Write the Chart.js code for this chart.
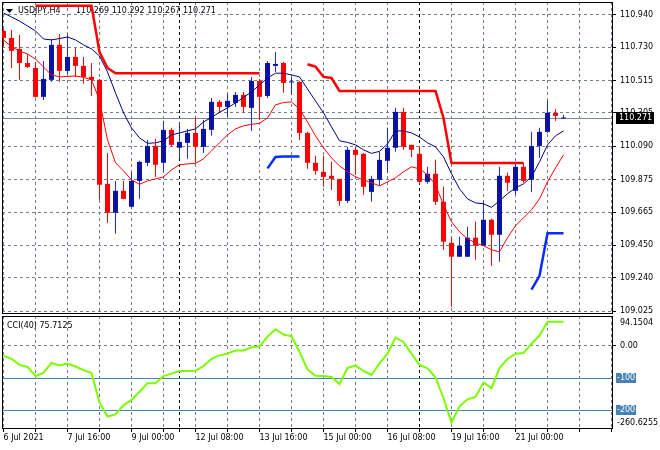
<!DOCTYPE html>
<html>
<head>
<meta charset="utf-8">
<script src="https://cdn.jsdelivr.net/npm/chart.js@4.4.1/dist/chart.umd.min.js"></script>
<style>
  html, body { margin: 0; padding: 0; background: #fff; }
  #wrap { position: relative; width: 660px; height: 450px; overflow: hidden; }
  #main { position: absolute; left: 0; top: 0; }
  #cci { position: absolute; left: 0; top: 314px; }
</style>
</head>
<body>
<div id="wrap">
  <canvas id="main" width="660" height="315"></canvas>
  <canvas id="cci" width="660" height="136"></canvas>
</div>
<script>
// USDJPY H4 bars, 6 Jul 2021 08:00 onwards (bar index = position)
const opens = [110.835, 110.790, 110.719, 110.628, 110.596, 110.409, 110.519, 110.745, 110.577, 110.667,
  110.609, 110.538, 110.519, 109.847, 109.660, 109.802, 109.699, 109.866, 109.983, 110.092,
  109.983, 110.196, 110.080, 110.112, 110.176, 110.086, 110.196, 110.377, 110.344, 110.370,
  110.422, 110.338, 110.512, 110.415, 110.609, 110.628, 110.502, 110.506, 110.176, 109.983,
  109.925, 109.899, 109.879, 109.737, 110.067, 110.041, 109.795, 109.873, 109.996, 110.080,
  110.312, 110.099, 110.041, 109.860, 109.912, 109.731, 109.466, 109.376, 109.376, 109.499,
  109.447, 109.615, 109.518, 109.899, 109.802, 109.957, 109.873, 110.092, 110.183, 110.306, 110.269];
const highs = [110.848, 110.841, 110.809, 110.686, 110.635, 110.641, 110.783, 110.816, 110.809, 110.725,
  110.667, 110.628, 110.525, 110.047, 109.866, 109.866, 109.918, 109.996, 110.131, 110.138,
  110.254, 110.209, 110.247, 110.202, 110.280, 110.260, 110.402, 110.389, 110.428, 110.441,
  110.441, 110.538, 110.525, 110.641, 110.699, 110.635, 110.538, 110.512, 110.183, 110.028,
  110.028, 109.989, 109.879, 110.086, 110.080, 110.047, 109.899, 110.054, 110.209, 110.338,
  110.338, 110.099, 110.092, 109.957, 110.002, 109.828, 109.499, 109.505, 109.570, 109.602,
  109.737, 109.621, 109.957, 109.918, 109.976, 109.983, 110.183, 110.209, 110.383, 110.331, 110.292];
const lows = [110.738, 110.596, 110.519, 110.596, 110.405, 110.389, 110.506, 110.506, 110.557, 110.538,
  110.493, 110.415, 109.744, 109.595, 109.524, 109.748, 109.692, 109.750, 109.963, 109.892,
  109.925, 110.086, 110.009, 110.009, 109.983, 110.047, 110.157, 110.306, 110.280, 110.344,
  110.306, 110.189, 110.260, 110.402, 110.570, 110.435, 110.422, 110.131, 109.944, 109.905,
  109.828, 109.808, 109.705, 109.724, 109.905, 109.776, 109.731, 109.834, 109.918, 110.054,
  110.067, 110.021, 109.841, 109.847, 109.711, 109.421, 109.053, 109.376, 109.376, 109.356,
  109.447, 109.318, 109.344, 109.802, 109.776, 109.854, 109.795, 110.015, 110.176, 110.254, 110.267];
const closes = [110.790, 110.706, 110.628, 110.602, 110.409, 110.525, 110.745, 110.577, 110.667, 110.609,
  110.538, 110.519, 109.841, 109.660, 109.802, 109.750, 109.866, 109.989, 110.092, 109.970,
  110.196, 110.099, 110.118, 110.176, 110.086, 110.202, 110.377, 110.344, 110.383, 110.422,
  110.344, 110.512, 110.409, 110.628, 110.622, 110.499, 110.509, 110.176, 109.983, 109.931,
  109.892, 109.879, 109.737, 110.067, 110.034, 109.828, 109.879, 110.002, 110.080, 110.312,
  110.086, 110.067, 109.860, 109.912, 109.731, 109.473, 109.376, 109.447, 109.499, 109.447,
  109.615, 109.518, 109.899, 109.854, 109.957, 109.866, 110.092, 110.183, 110.306, 110.286, 110.271];

// indicator lines (navy MA, red lower MA, red/blue stop lines)
const maLine = [110.951, 110.925, 110.899, 110.867, 110.835, 110.783, 110.777, 110.786, 110.796, 110.777,
  110.745, 110.719, 110.673, 110.570, 110.435, 110.306, 110.209, 110.144, 110.109, 110.112,
  110.125, 110.163, 110.176, 110.189, 110.202, 110.247, 110.276, 110.309, 110.338, 110.370,
  110.406, 110.441, 110.486, 110.531, 110.562, 110.562, 110.551, 110.538, 110.460, 110.383,
  110.306, 110.215, 110.125, 110.115, 110.099, 110.067, 110.044, 110.057, 110.105, 110.189,
  110.189, 110.176, 110.150, 110.112, 110.086, 110.021, 109.912, 109.815, 109.750, 109.724,
  109.718, 109.695, 109.737, 109.783, 109.821, 109.847, 109.892, 109.989, 110.099, 110.157, 110.189];
const lowerMa = [110.777, 110.732, 110.706, 110.686, 110.654, 110.602, 110.551, 110.538, 110.541, 110.544,
  110.535, 110.519, 110.389, 110.131, 109.983, 109.931, 109.873, 109.844, 109.866, 109.879,
  109.892, 109.937, 109.970, 109.976, 109.979, 110.009, 110.060, 110.112, 110.163, 110.202,
  110.222, 110.231, 110.238, 110.273, 110.357, 110.373, 110.376, 110.331, 110.247, 110.157,
  110.079, 110.015, 109.963, 109.925, 109.892, 109.873, 109.854, 109.834, 109.860, 109.886,
  109.925, 109.957, 109.944, 109.905, 109.841, 109.712, 109.602, 109.537, 109.492, 109.466,
  109.447, 109.421, 109.408, 109.499, 109.576, 109.628, 109.679, 109.750, 109.860, 109.950, 110.034];
const stopUpper = [null, null, null, null, 110.997, 110.997, 110.997, 110.997, 110.997, 110.997,
  110.997, 110.997, 110.699, 110.596, 110.562, 110.562, 110.562, 110.562, 110.562, 110.562,
  110.562, 110.562, 110.562, 110.562, 110.562, 110.562, 110.562, 110.562, 110.562, 110.562,
  110.562, 110.562, 110.562, null, null, null, null, null, 110.620, 110.604,
  110.538, 110.531, 110.447, 110.447, 110.447, 110.447, 110.447, 110.447, 110.447, 110.447,
  110.447, 110.447, 110.447, 110.447, 110.447, 110.273, 109.981, 109.981, 109.981, 109.981,
  109.981, 109.981, 109.981, 109.981, 109.981, 109.981, null, null, null, null, null];
const stopLower = [null, null, null, null, null, null, null, null, null, null,
  null, null, null, null, null, null, null, null, null, null,
  null, null, null, null, null, null, null, null, null, null,
  null, null, null, 109.947, 110.021, 110.023, 110.023, 110.023, null, null,
  null, null, null, null, null, null, null, null, null, null,
  null, null, null, null, null, null, null, null, null, null,
  null, null, null, null, null, null, 109.163, 109.253, 109.528, 109.528, 109.528];

// CCI(40)
const cciValues = [-30.8, -40.3, -59.4, -65.7, -94.3, -84.8, -53.3, -61.3, -54.9, -64.4,
  -75.6, -84.8, -176.8, -221.3, -214.9, -186.3, -169.2, -143.8, -116.8, -116.8,
  -94.6, -86.7, -78.7, -78.7, -77.8, -62.9, -40.6, -29.5, -24.4, -13.9,
  -13.9, -3.8, -1.3, 29.5, 52.7, 35.9, 30.5, -18.1, -73.7, -93.3,
  -94.3, -97.5, -119.7, -68.9, -61.6, -78.4, -91.1, -54.6, -24.4, 26.3,
  12.7, -24.4, -59.4, -70.5, -98.4, -164.1, -240.3, -189.5, -167.3, -160.0,
  -114.3, -132.4, -69.2, -40.6, -24.4, -22.2, 7.2, 32.7, 76.2, 75.9, 75.7125];
const cciLevels = [-100, -200];
const cciTicks = [0];
const cciMin = -260.6255, cciMax = 94.1504;

// axes
const priceTicks = [109.025, 109.240, 109.450, 109.665, 109.875, 110.090, 110.305, 110.515, 110.730, 110.940];
const priceMin = 109.006, priceMax = 111.022;
const gridBars = [0, 4, 8, 12, 16, 20, 24, 28, 32, 36, 40, 44, 48, 52, 56, 60, 64, 68, 72, 76];
const separatorBars = [22, 52];
const labelBars = [0, 8, 16, 24, 32, 40, 48, 56, 64];
const dateLabels = ['6 Jul 2021', '7 Jul 16:00', '9 Jul 00:00', '12 Jul 08:00', '13 Jul 16:00',
  '15 Jul 00:00', '16 Jul 08:00', '19 Jul 16:00', '21 Jul 00:00'];
const xMin = -0.1875, xMax = 76.0625;

const symbolText = 'USDJPY,H4';
const lastClose = closes[closes.length - 1];

Chart.defaults.font.family = "'DejaVu Sans', sans-serif";
Chart.defaults.font.size = 8;
Chart.defaults.color = '#000';

const gridColor = '#708090';
const upBody = '#0b12a8', upWick = '#1b2cff', downColor = '#ff0000';

const xTickBars = gridBars.concat(separatorBars).sort((a, b) => a - b);
const isUp = opens.map((o, i) => closes[i] >= o);
const pts = arr => arr.map((v, i) => ({ x: i, y: v }));

function xAxis(showLabels) {
  return {
    type: 'linear', min: xMin, max: xMax, offset: false,
    afterBuildTicks: s => { s.ticks = xTickBars.map(v => ({ value: v })); },
    afterFit: s => { s.height = showLabels ? 21 : 0; s.paddingLeft = 0; s.paddingRight = 0; },
    grid: {
      offset: false,
      color: c => (c.tick && separatorBars.includes(c.tick.value)) ? '#000' : gridColor,
      drawTicks: showLabels, tickLength: 3, tickColor: '#000', tickBorderDash: []
    },
    border: { display: false, dash: [3, 3] },
    ticks: {
      display: showLabels, autoSkip: false, maxRotation: 0, align: 'start', padding: 1,
      callback: v => { const k = labelBars.indexOf(v); return k < 0 ? '' : dateLabels[k]; }
    }
  };
}

const frame = {
  id: 'frame',
  beforeDatasetsDraw(chart) {
    const { ctx, chartArea: a } = chart;
    ctx.save();
    ctx.strokeStyle = '#000';
    ctx.lineWidth = 1;
    ctx.strokeRect(a.left + 0.5, a.top + 0.5, a.right - a.left, a.bottom - a.top - 1);
    ctx.restore();
  }
};

const mainDecor = {
  id: 'mainDecor',
  beforeDatasetsDraw(chart) {
    const { ctx, chartArea: a, scales } = chart;
    const y = Math.round(scales.y.getPixelForValue(lastClose)) + 0.5;
    ctx.save();
    ctx.strokeStyle = '#778899';
    ctx.lineWidth = 1;
    ctx.beginPath();
    ctx.moveTo(a.left, y);
    ctx.lineTo(a.right, y);
    ctx.stroke();
    // header
    ctx.font = "8px 'DejaVu Sans'";
    ctx.textBaseline = 'middle';
    ctx.fillStyle = '#000';
    ctx.beginPath();
    ctx.moveTo(6, 9); ctx.lineTo(13, 9); ctx.lineTo(9.5, 13); ctx.closePath();
    ctx.fill();
    const last = opens.length - 1;
    ctx.fillText(symbolText, 18, 10.5);
    ctx.fillText([opens[last], highs[last], lows[last], closes[last]].map(v => v.toFixed(3)).join(' '), 76, 10.5);
    ctx.restore();
  },
  afterDraw(chart) {
    const { ctx, scales } = chart;
    const y = scales.y.getPixelForValue(lastClose);
    ctx.save();
    ctx.fillStyle = '#000';
    ctx.fillRect(616, Math.round(y) - 6, 38, 12);
    ctx.font = "8px 'DejaVu Sans'";
    ctx.textBaseline = 'middle';
    ctx.fillStyle = '#fff';
    ctx.fillText(lastClose.toFixed(3), 619, y);
    ctx.restore();
  }
};

const cciDecor = {
  id: 'cciDecor',
  beforeDatasetsDraw(chart) {
    const { ctx, chartArea: a, scales } = chart;
    ctx.save();
    ctx.strokeStyle = '#4682b4';
    ctx.lineWidth = 1;
    cciLevels.forEach(l => {
      const y = Math.round(scales.y.getPixelForValue(l)) + 0.5;
      ctx.beginPath(); ctx.moveTo(a.left, y); ctx.lineTo(a.right, y); ctx.stroke();
    });
    ctx.restore();
  },
  afterDraw(chart) {
    const { ctx, chartArea: a, scales } = chart;
    ctx.save();
    ctx.font = "8px 'DejaVu Sans'";
    ctx.textBaseline = 'middle';
    cciLevels.forEach(l => {
      const y = scales.y.getPixelForValue(l);
      ctx.fillStyle = '#4682b4';
      ctx.fillRect(616, Math.round(y) - 5, 20, 10);
      ctx.fillStyle = '#fff';
      ctx.fillText(String(l), 617, y);
    });
    ctx.fillStyle = '#000';
    ctx.fillText(cciMax.toFixed(4), 620, a.top + 7);
    ctx.fillText(cciMin.toFixed(4), 617, a.bottom - 6);
    ctx.fillText('CCI(40) ' + cciValues[cciValues.length - 1].toFixed(4), 7, 11.5);
    ctx.restore();
  }
};

new Chart(document.getElementById('main'), {
  type: 'line',
  data: {
    datasets: [
      { type: 'line', data: pts(stopUpper), borderColor: '#ff0000', borderWidth: 2.5, pointRadius: 0, spanGaps: false, order: 1 },
      { type: 'line', data: pts(stopLower), borderColor: '#0a2bff', borderWidth: 2.5, pointRadius: 0, spanGaps: false, order: 1 },
      { type: 'line', data: pts(maLine), borderColor: '#000080', borderWidth: 1, pointRadius: 0, order: 1 },
      { type: 'line', data: pts(lowerMa), borderColor: '#ff0000', borderWidth: 1, pointRadius: 0, order: 1 },
      {
        type: 'bar', data: opens.map((o, i) => ({ x: i, y: [o, closes[i]] })),
        backgroundColor: isUp.map(u => u ? upBody : downColor),
        barThickness: 5, grouped: false, minBarLength: 1, inflateAmount: 0, order: 2
      },
      {
        type: 'bar', data: lows.map((l, i) => ({ x: i, y: [l, highs[i]] })),
        backgroundColor: isUp.map(u => u ? upWick : downColor),
        barThickness: 1, grouped: false, inflateAmount: 0, order: 3
      }
    ]
  },
  options: {
    responsive: false, animation: false, events: [],
    layout: { padding: { left: 2, top: 2, right: 0, bottom: 1 } },
    plugins: { legend: { display: false }, tooltip: { enabled: false } },
    scales: {
      x: xAxis(false),
      y: {
        type: 'linear', position: 'right', min: priceMin, max: priceMax,
        afterBuildTicks: s => { s.ticks = priceTicks.map(v => ({ value: v })); },
        afterFit: s => { s.width = 48; s.paddingTop = 0; s.paddingBottom = 0; },
        grid: { color: gridColor, tickLength: 4, tickColor: '#000', tickBorderDash: [] },
        border: { display: false, dash: [3, 3] },
        ticks: { padding: 4, callback: v => v.toFixed(3) }
      }
    }
  },
  plugins: [mainDecor, frame]
});

new Chart(document.getElementById('cci'), {
  type: 'line',
  data: {
    datasets: [{ data: pts(cciValues), borderColor: '#7cfc00', borderWidth: 2, pointRadius: 0, tension: 0 }]
  },
  options: {
    responsive: false, animation: false, events: [],
    layout: { padding: { left: 2, top: 2, right: 0, bottom: 0 } },
    plugins: { legend: { display: false }, tooltip: { enabled: false } },
    scales: {
      x: xAxis(true),
      y: {
        type: 'linear', position: 'right', min: cciMin, max: cciMax,
        afterBuildTicks: s => { s.ticks = cciTicks.map(v => ({ value: v })); },
        afterFit: s => { s.width = 48; s.paddingTop = 0; s.paddingBottom = 0; },
        grid: { color: gridColor, tickLength: 4, tickColor: '#000', tickBorderDash: [] },
        border: { display: false, dash: [3, 3] },
        ticks: { padding: 4, callback: v => v.toFixed(2) }
      }
    }
  },
  plugins: [cciDecor, frame]
});
</script>
</body>
</html>
